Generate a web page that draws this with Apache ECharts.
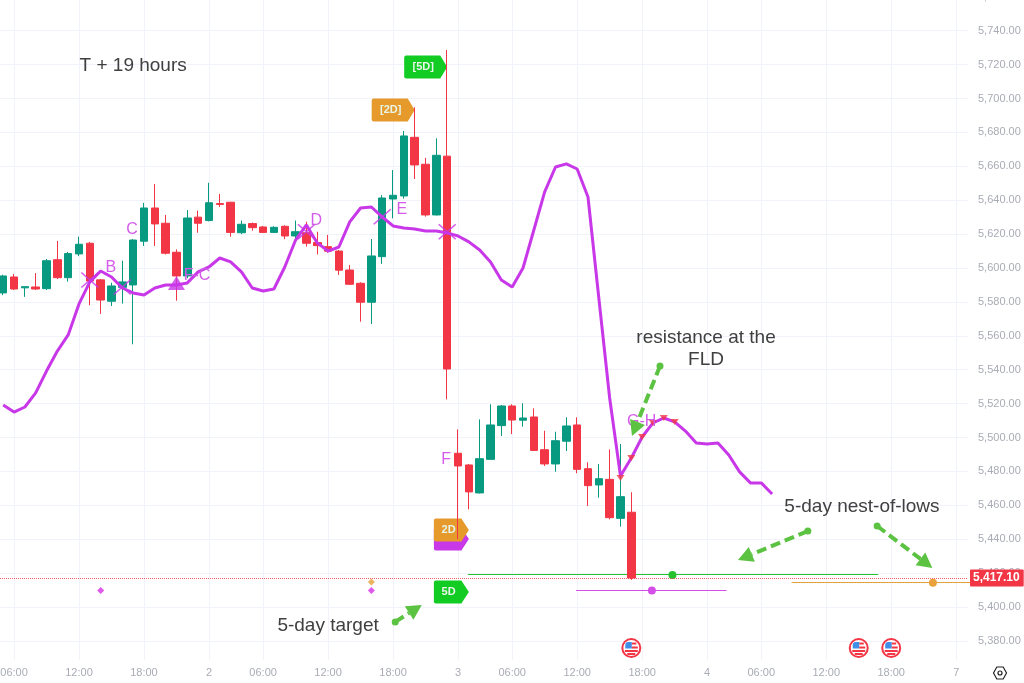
<!DOCTYPE html>
<html><head><meta charset="utf-8">
<style>html,body{margin:0;padding:0;background:#fff}#c{width:1024px;height:683px}</style>
<script src="https://cdn.jsdelivr.net/npm/echarts@6/dist/echarts.min.js"></script>
</head><body><div id="c"></div>
<script>
const opens =[5585.3,5594.7,5588.3,5588.8,5587.8,5604.9,5594.3,5608.3,5614.6,5593,5580.4,5588.6,5590,5615.8,5635.4,5626.4,5609.3,5595.3,5630,5628,5638,5638.8,5620.8,5626.2,5624.2,5621,5624.6,5618.9,5620.8,5615,5612.6,5610,5598.8,5591,5579.8,5606.7,5640.7,5642.5,5677.1,5661.2,5631.3,5666,5490.7,5483.8,5467.3,5487.1,5507,5518.6,5510.2,5512.1,5492.8,5484.4,5497.8,5507.4,5481.6,5472,5475.3,5452.3,5455.9];
const closes=[5595.3,5587.6,5589,5587.6,5604.3,5594.3,5608.5,5614,5592.3,5581.1,5589.4,5591.8,5616.5,5635.4,5626,5608.7,5595.3,5629.5,5626.4,5638.5,5637.5,5621,5625.8,5623.8,5621,5624,5618.9,5621.4,5614.6,5613.2,5609.9,5598.7,5590.4,5579.8,5607.1,5641.3,5642.9,5677.9,5660.8,5631.3,5666.5,5540.4,5483.2,5467.9,5487.5,5507.4,5518.6,5510.3,5511.5,5492.4,5484.4,5498.1,5506.8,5481.2,5471.6,5475.7,5452.7,5465.1,5417.1];
const lows  =[5584,5587,5583,5587,5587,5593.5,5592,5607,5578,5572.9,5577.6,5579,5555,5613,5613,5608,5580.7,5594,5620.8,5627.5,5636,5618.5,5620,5622,5620.7,5620.7,5617,5616.5,5612.6,5608,5609,5595.9,5590,5568.3,5567,5602.4,5629.3,5641,5652.5,5630.3,5631,5522.5,5440,5457.6,5467,5487,5500.9,5502,5506.4,5492,5483.2,5479.8,5492,5478.9,5459.6,5464.5,5451.7,5447.4,5416];
const highs =[5596,5596.5,5589,5597,5605.3,5616,5609.5,5618.5,5615.4,5593.5,5591.3,5604.3,5617,5638.4,5649.6,5631.3,5611,5634.2,5633.8,5650.3,5643.7,5639,5628,5626.8,5624.8,5624.6,5625.2,5628,5627.3,5621.4,5619.5,5610.6,5601.8,5591.6,5617.1,5643,5657.8,5680.8,5694.8,5665,5676.5,5728.6,5504.8,5484.4,5510.7,5519.6,5519.2,5519.6,5520.2,5517.2,5504,5503.4,5511.9,5511.9,5485.4,5484.4,5493,5496.2,5467.7];
const fld   =[5519.2,5515,5518,5526.3,5539.2,5551,5560.5,5578.8,5591.8,5598.2,5594.7,5588.2,5585.3,5584.1,5588.2,5590,5590,5591.2,5597.7,5600.6,5605.9,5603.6,5597.7,5588.2,5586.4,5587.6,5600.6,5616.5,5625.4,5614.8,5610,5612.4,5627.2,5635.4,5636,5630.1,5624.8,5623.6,5623,5621.8,5621.8,5620.7,5618.9,5615.4,5610.6,5603.6,5592.9,5588.8,5600,5622.4,5644.9,5659.6,5661.4,5658.4,5641.9,5582.3,5523.3,5477.3,5487.9,5500.3,5508.6,5511.5,5509.2,5503.8,5496.8,5496.2,5496.8,5489.7,5479.7,5473.2,5473.2,5466.7];
const xTickIdx   =[1,7,13,19,24,30,36,42,47,53,59,65,70,76,82,88];
const xTickLabels=['06:00','12:00','18:00','2','06:00','12:00','18:00','3','06:00','12:00','18:00','4','06:00','12:00','18:00','7'];
const yTicks     =[5380,5400,5420,5440,5460,5480,5500,5520,5540,5560,5580,5600,5620,5640,5660,5680,5700,5720,5740,5760];
const yTickLabels=['5,380.00','5,400.00','5,420.00','5,440.00','5,460.00','5,480.00','5,500.00','5,520.00','5,540.00','5,560.00','5,580.00','5,600.00','5,620.00','5,640.00','5,660.00','5,680.00','5,700.00','5,720.00','5,740.00','5,760.00'];
const lastPrice=5417.1, lastLabel='5,417.10';
const crosses=[[8,5592.9],[11,5588.8],[28,5621.4],[35,5630.2],[41,5621.4]];
const bigTriangles=[[16,5591.2]];
const redTriangles=[[57,5476.1],[58,5487.9],[59,5500.3],[60,5508.6],[61,5511.5],[62,5509.2]];
const purpleDiamonds=[[9,5409.7],[34,5409.7]];
const orangeDiamonds=[[34,5414.8]];
const letters=[[9.93,5600,'B'],[11.9,5622.4,'C'],[17.9,5595.3,'F-C'],[28.9,5627.9,'D'],[36.8,5634.2,'E'],[40.9,5486.7,'F'],[58.96,5509.2,'G-H']];
const notes=[[12,5719.2,'T + 19 hours'],[64.9,5558.7,'resistance at the'],[64.9,5545.7,'FLD'],[79.3,5459,'5-day nest-of-lows'],[30,5388.8,'5-day target']];
const segments=[[42.9,80.8,5418.9,61.8,'#27c22f'],[52.9,66.8,5409.7,59.9,'#d44fe8'],[72.8,89.3,5414.3,85.85,'#e9a23b']];
const pills=[[41,5718.6,'[5D]','#12cc23',1],[38,5693.2,'[2D]','#e59a2b',1],[43,5440.1,'','#c837e8',0],[43,5445.4,'2D','#e59a2b',0],[43,5408.9,'5D','#12cc23',0]];
const arrows=[[60.65,5542.2,58.06,5500.9],[74.3,5444.8,67.85,5427.7],[80.7,5447.8,85.8,5423],[36.2,5391.2,38.65,5401.2]];
const flags=[[58,5375.8],[79,5375.8],[82,5375.8]];

const GRID='#f0f3fa', AXT='#a9acb5', PUR='#c837e8', RED='#f23645', GRN='#089981', FONT='"Liberation Sans",Arial,sans-serif';
const candles=opens.map((o,i)=>[i,o,closes[i],lows[i],highs[i]]);
const chart=echarts.init(document.getElementById('c'),null,{renderer:'canvas'});

function renderPill(p,api){
  const d=pills[api.value(0)], c=api.coord([d[0],d[1]]), w=d[4]?36:27.5, a=d[4]?7:7.5, h=23;
  const tx=c[0], ty=c[1], L=tx-a-w, T=ty-h/2;
  const path=`M${L+2} ${T}L${tx-a} ${T}L${tx} ${ty}L${tx-a} ${T+h}L${L+2} ${T+h}Q${L} ${T+h} ${L} ${T+h-2}L${L} ${T+2}Q${L} ${T} ${L+2} ${T}Z`;
  return {type:'group',children:[
    {type:'path',shape:{pathData:path,x:L,y:T,width:w+a,height:h},style:{fill:d[3]}},
    {type:'text',style:{x:L+w/2+1,y:ty,text:d[2],fill:'#e8f5e8',font:'bold 11px '+FONT,align:'center',verticalAlign:'middle'}}
  ]};
}
function renderArrow(p,api){
  const d=arrows[api.value(0)], a=api.coord([d[0],d[1]]), b=api.coord([d[2],d[3]]);
  const dx=b[0]-a[0],dy=b[1]-a[1],len=Math.hypot(dx,dy),ux=dx/len,uy=dy/len,hl=15,hw=8,col='#5cc242';
  const bx=b[0]-ux*hl,by=b[1]-uy*hl;
  return {type:'group',children:[
    {type:'line',shape:{x1:a[0],y1:a[1],x2:bx,y2:by},style:{stroke:col,lineWidth:4,lineDash:[10,5]}},
    {type:'circle',shape:{cx:a[0],cy:a[1],r:3.5},style:{fill:col}},
    {type:'polygon',shape:{points:[[b[0],b[1]],[bx-uy*hw,by+ux*hw],[bx+uy*hw,by-ux*hw]]},style:{fill:col}}
  ]};
}
function renderSeg(p,api){
  const d=segments[api.value(0)], a=api.coord([d[0],d[2]]), b=api.coord([d[1],d[2]]), m=api.coord([d[3],d[2]]);
  const y=Math.floor(a[1])+0.5;
  return {type:'group',children:[
    {type:'line',shape:{x1:a[0],y1:y,x2:b[0],y2:y},style:{stroke:d[4],lineWidth:1}},
    {type:'circle',shape:{cx:m[0],cy:m[1],r:4},style:{fill:d[4]}}
  ]};
}
function renderFlag(p,api){
  const d=flags[api.value(0)], c=api.coord([d[0],d[1]]), x=c[0], y=c[1];
  const r=(a,b,w,h,f,rr)=>({type:'rect',shape:{x:x+a,y:y+b,width:w,height:h,r:rr||0},style:{fill:f}});
  return {type:'group',children:[
    {type:'circle',shape:{cx:x,cy:y,r:9},style:{fill:'#fff',stroke:RED,lineWidth:2}},
    r(-6,-6,6.5,6.5,'#3f8fe8',[3,0,0,0]),
    r(0.5,-5.5,4.5,2,RED), r(0.5,-1.5,6,2,RED),
    r(-6.5,2,13,2,RED), r(-4,5,8,2,RED)
  ]};
}
const txt=(arr,size,col,z)=>({type:'custom',coordinateSystem:'cartesian2d',clip:false,z:z,silent:true,
  data:arr.map((d,i)=>[i,d[0],d[1]]),encode:{x:1,y:2},
  renderItem(p,api){const d=arr[api.value(0)],c=api.coord([d[0],d[1]]);
    return {type:'text',style:{x:c[0],y:c[1],text:d[2],fill:col,font:size+'px '+FONT,align:'center',verticalAlign:'middle'}};}});

chart.setOption({
  animation:false,backgroundColor:'#fff',
  grid:{left:0,width:968,top:-3.2,height:663.2,containLabel:false,outerBoundsMode:'none'},
  xAxis:{type:'value',min:-0.295,max:89.09,
    axisLine:{show:false},
    axisTick:{show:false,customValues:xTickIdx},
    splitLine:{show:true,lineStyle:{color:GRID,width:1}},
    axisLabel:{customValues:xTickIdx,color:AXT,fontSize:11,fontFamily:FONT,margin:7,
      formatter:v=>xTickLabels[xTickIdx.indexOf(v)]}},
  yAxis:{type:'value',position:'right',min:5368.73,max:5760,
    axisLine:{show:false},
    axisTick:{show:false,customValues:yTicks},
    splitLine:{show:true,lineStyle:{color:GRID,width:1}},
    axisLabel:{customValues:yTicks,color:AXT,fontSize:11,fontFamily:FONT,margin:10,
      formatter:v=>yTickLabels[yTicks.indexOf(v)]}},
  graphic:[
    {type:'polygon',shape:{points:[[993.5,673],[996.8,667],[1003.2,667],[1006.5,673],[1003.2,679],[996.8,679]]},style:{fill:'none',stroke:'#222',lineWidth:1.2}},
    {type:'circle',shape:{cx:1000,cy:673,r:2},style:{fill:'none',stroke:'#222',lineWidth:1.2}}
  ],
  series:[
    {type:'custom',coordinateSystem:'cartesian2d',z:2,silent:true,clip:false,data:pills.map((d,i)=>[i,d[0],d[1]]),encode:{x:1,y:2},renderItem:renderPill},
    {type:'custom',coordinateSystem:'cartesian2d',z:2,silent:true,clip:false,data:segments.map((d,i)=>[i,d[0],d[2]]),encode:{x:1,y:2},renderItem:renderSeg},
    {type:'custom',coordinateSystem:'cartesian2d',z:2,silent:true,data:flags.map((d,i)=>[i,d[0],d[1]]),encode:{x:1,y:2},renderItem:renderFlag},
    {type:'candlestick',z:3,barWidth:8,encode:{x:0,y:[1,2,3,4]},data:candles,
      itemStyle:{color:GRN,color0:RED,borderColor:GRN,borderColor0:RED,borderWidth:1},
      markLine:{silent:true,symbol:'none',animation:false,
        lineStyle:{color:'rgba(242,54,69,0.8)',type:[1,1],width:1,opacity:1},
        label:{show:true,position:'end',distance:2,formatter:lastLabel,color:'#fff',backgroundColor:RED,opacity:1,
          fontSize:12,fontWeight:'bold',fontFamily:FONT,padding:[3,4,2,3],borderRadius:1},
        data:[{yAxis:lastPrice}]}},
    {type:'line',z:4,data:fld.map((v,i)=>[i,v]),showSymbol:false,smooth:false,lineStyle:{color:PUR,width:3},silent:true},
    {type:'scatter',z:5,data:crosses,symbol:'path://M0 0L10 10M10 0L0 10',symbolSize:[17,15],silent:true,
      itemStyle:{color:'none',borderColor:PUR,borderWidth:1.5}},
    {type:'scatter',z:5,data:bigTriangles,symbol:'triangle',symbolSize:[17,14],silent:true,itemStyle:{color:PUR}},
    {type:'scatter',z:6,data:redTriangles,symbol:'triangle',symbolRotate:180,symbolSize:[8,6],silent:true,itemStyle:{color:RED}},
    {type:'scatter',z:5,data:purpleDiamonds,symbol:'diamond',symbolSize:7,silent:true,itemStyle:{color:'#d82fe8'}},
    {type:'scatter',z:5,data:orangeDiamonds,symbol:'diamond',symbolSize:7,silent:true,itemStyle:{color:'#e9a23b'}},
    txt(letters,16,'#d35ce9',7),
    {type:'custom',coordinateSystem:'cartesian2d',z:8,silent:true,clip:false,data:arrows.map((d,i)=>[i,d[0],d[1]]),encode:{x:1,y:2},renderItem:renderArrow},
    txt(notes,19,'#404040',8)
  ]
});
</script></body></html>
